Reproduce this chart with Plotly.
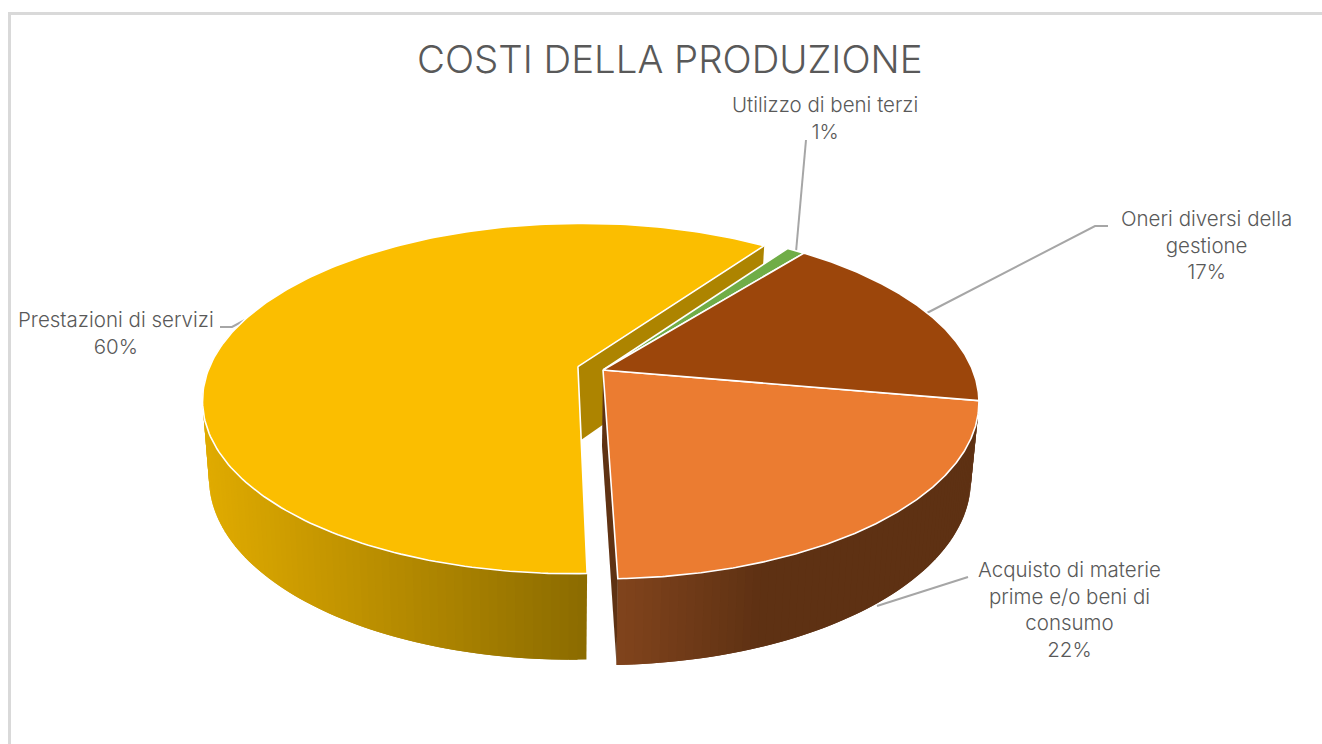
import numpy as np
import plotly.graph_objects as go

# ---- data ----
categories = ["Acquisto di materie<br>prime e/o beni di<br>consumo", "Prestazioni di servizi",
              "Utilizzo di beni terzi", "Oneri diversi della<br>gestione"]
values = [21.7, 60.2, 1.0, 17.1]
shown_percent = [22, 60, 1, 17]
top_colors = ["#EB7C31", "#FBBE00", "#70AD47", "#9C460B"]
title_text = "COSTI DELLA PRODUZIONE"

# ---- pie geometry (perspective disc) ----
START = 100.0
K = 0.183
TOP = dict(cx=603.0, cy=370.0, A=369.6, B=170.6)
BOT = dict(cx=602.0, cy=446.0, A=362.7, B=179.0)
EXPLODE = 0.071


def project(u, v, d):
    w = 1 + K * v
    return d["cx"] + d["A"] * u / w, d["cy"] - d["B"] * v / w


def rim(a0, a1, disc, off=(0, 0), n=120):
    t = np.radians(np.linspace(a0, a1, n))
    return project(np.sin(t) + off[0], np.cos(t) + off[1], disc)


def lerp_color(c0, c1, f):
    f = min(1.0, max(0.0, f))
    c = [int(round(a + (b - a) * f)) for a, b in zip(c0, c1)]
    return f"rgb({c[0]},{c[1]},{c[2]})"


fig = go.Figure()


def poly(x, y, fill, line=None, width=0.0):
    fig.add_trace(go.Scatter(x=list(x), y=list(y), mode="lines", fill="toself", fillcolor=fill,
                             line=dict(color=line or fill, width=width), hoverinfo="skip",
                             showlegend=False))


angles = START + np.concatenate([[0], np.cumsum(values)]) * 3.6
spans = list(zip(angles[:-1], angles[1:]))

mid = np.radians(sum(spans[1]) / 2)
off_y = (EXPLODE * np.sin(mid), EXPLODE * np.cos(mid))
offsets = [(0, 0), off_y, (0, 0), (0, 0)]


def wall(a0, a1, off, shade, n):
    # strips are painted in order, each running under the next, so no seams show
    edges = np.linspace(a0, a1, n + 1)
    step = edges[1] - edges[0]
    for i in range(n):
        end = min(a1, edges[i + 1] + step)
        tx, ty = rim(edges[i], end, TOP, off, 5)
        bx, by = rim(edges[i], end, BOT, off, 5)
        xm = 0.5 * (tx.mean() + bx.mean())
        poly(np.r_[tx, bx[::-1], tx[0]], np.r_[ty, by[::-1], ty[0]], shade(xm))


# leader lines that go behind the pie
leaders = [
    ([968, 877], [577, 606]),
    ([1108, 1095, 925], [226, 226, 314]),
    ([806, 796], [140, 252]),
    ([220, 232, 245], [327, 327, 320]),
]
for lx, ly in leaders:
    fig.add_trace(go.Scatter(x=lx, y=ly, mode="lines", line=dict(color="#A6A6A6", width=2),
                             hoverinfo="skip", showlegend=False))

# exploded slice: far cut face
a_end = spans[1][1]
o = offsets[1]
ax_t, ay_t = project(np.array([o[0]]), np.array([o[1]]), TOP)
ax_b, ay_b = project(np.array([o[0]]), np.array([o[1]]), BOT)
ex_t, ey_t = rim(a_end, a_end, TOP, o, 1)
ex_b, ey_b = rim(a_end, a_end, BOT, o, 1)
poly([ax_t[0], ex_t[0], ex_b[0], ax_b[0], ax_t[0]], [ay_t[0], ey_t[0], ey_b[0], ay_b[0], ay_t[0]], "#AD8400")

# walls, shaded across the page
wall(spans[1][0], 282, o,
     lambda x: lerp_color((0xE0, 0xAB, 0x00), (0x8A, 0x6A, 0x00), (x - 205) / (587 - 205)), 90)
wall(spans[0][0], spans[0][1], (0, 0),
     lambda x: lerp_color((0x80, 0x43, 0x1C), (0x5E, 0x31, 0x13), (x - 618) / (755 - 618)), 70)

# near cut face of the first slice
a_cut = spans[0][1]
rt_x, rt_y = rim(a_cut, a_cut, TOP, (0, 0), 1)
rb_x, rb_y = rim(a_cut, a_cut, BOT, (0, 0), 1)
poly([TOP["cx"], rt_x[0], rb_x[0], BOT["cx"], TOP["cx"]],
     [TOP["cy"], rt_y[0], rb_y[0], BOT["cy"], TOP["cy"]], "#5F3213")

# tops
for (a0, a1), off, col in zip(spans, offsets, top_colors):
    rx, ry = rim(a0, a1, TOP, off, 220)
    px, py = project(np.array([off[0]]), np.array([off[1]]), TOP)
    poly(np.r_[px, rx, px], np.r_[py, ry, py], col, line="#FFFFFF", width=1.6)

# chart frame
shapes = [
    dict(type="line", x0=9.5, x1=9.5, y0=13.5, y1=744, line=dict(color="#D9D9D9", width=3)),
    dict(type="line", x0=8, x1=1322, y0=13.5, y1=13.5, line=dict(color="#D9D9D9", width=3)),
]

# labels
label_pos = [(1069, 609), (116, 333), (825, 118), (1206, 245)]
FONT = "Inter"
annotations = [
    dict(x=x, y=y, text=f"{n}<br>{p}%", showarrow=False, xref="x", yref="y", align="center",
         font=dict(family=FONT, size=20.5, color="#595959", weight=300))
    for n, p, (x, y) in zip(categories, shown_percent, label_pos)
]
annotations.append(dict(x=670, y=59, text=title_text, showarrow=False, xref="x", yref="y",
                        font=dict(family=FONT, size=38.4, color="#595959", weight=300)))

fig.update_layout(
    width=1322, height=744, margin=dict(l=0, r=0, t=0, b=0),
    paper_bgcolor="white", plot_bgcolor="white", showlegend=False,
    xaxis=dict(range=[0, 1322], visible=False, fixedrange=True),
    yaxis=dict(range=[744, 0], visible=False, fixedrange=True),
    shapes=shapes, annotations=annotations,
)
fig.write_html("out.html", post_script="document.body.style.margin='0';document.body.style.overflow='hidden';",
               config=dict(displayModeBar=False))
